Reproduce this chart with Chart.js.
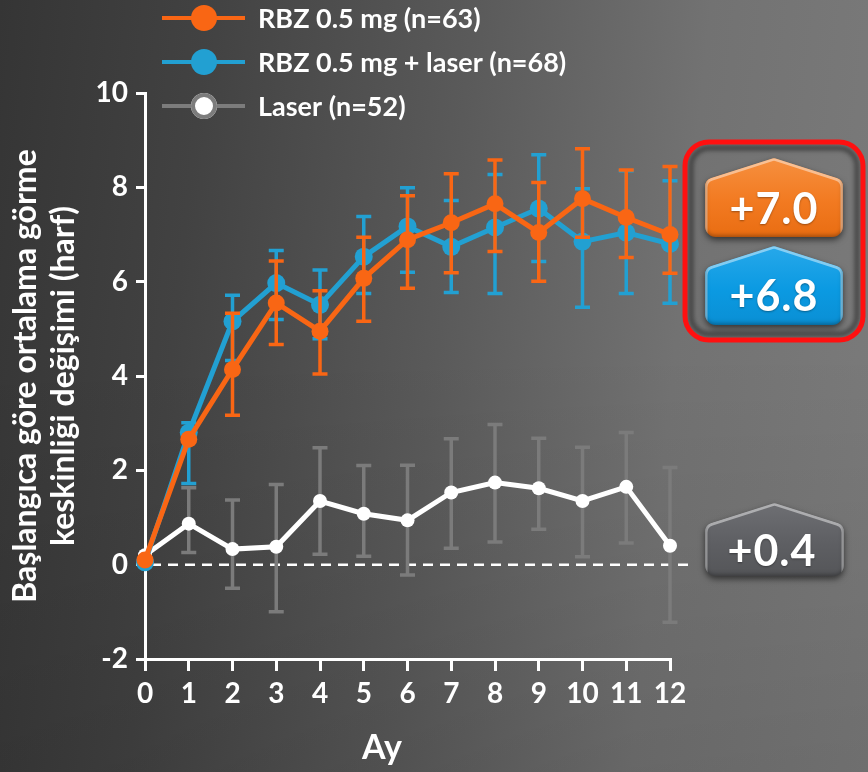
<!DOCTYPE html>
<html>
<head>
<meta charset="utf-8">
<script src="https://cdn.jsdelivr.net/npm/chart.js@4.4.1/dist/chart.umd.min.js"></script>
<style>
  html, body { margin: 0; padding: 0; width: 868px; height: 772px; overflow: hidden; }
  body {
    background:
      linear-gradient(to bottom, rgba(0,0,0,0) 45%, rgba(0,0,0,0.10) 100%),
      linear-gradient(96deg, #353535 0%, #424242 22%, #5a5a5a 50%, #727272 75%, #7b7b7b 100%);
  }
  #wrap { position: relative; width: 868px; height: 772px; }
</style>
</head>
<body>
<div id="wrap"><canvas id="c" width="868" height="772"></canvas></div>
<script>
// Months since baseline
const months = ['0', '1', '2', '3', '4', '5', '6', '7', '8', '9', '10', '11', '12'];

// Mean change in visual acuity (letters) per arm
const rbz      = [0.1, 2.66, 4.14, 5.55, 4.95, 6.07, 6.89, 7.25, 7.65, 7.04, 7.76, 7.36, 7.0];
const rbzLow   = [null, null, 3.17, 4.67, 4.04, 5.16, 5.86, 6.19, 6.64, 6.01, 6.94, 6.51, 6.18];
const rbzHigh  = [null, null, 5.33, 6.44, 5.81, 6.94, 7.82, 8.29, 8.58, 8.10, 8.82, 8.37, 8.44];

const rbzLaser     = [0.05, 2.8, 5.16, 5.97, 5.51, 6.53, 7.17, 6.74, 7.15, 7.55, 6.85, 7.04, 6.8];
const rbzLaserLow  = [null, 1.72, 4.33, 5.20, 4.79, 5.75, 6.20, 5.77, 5.75, 6.43, 5.46, 5.75, 5.54];
const rbzLaserHigh = [null, 3.01, 5.71, 6.66, 6.25, 7.38, 7.99, 7.72, 8.27, 8.69, 7.97, 8.35, 8.14];

const laser     = [0.2, 0.87, 0.33, 0.38, 1.35, 1.08, 0.94, 1.53, 1.74, 1.62, 1.35, 1.65, 0.4];
const laserLow  = [null, 0.26, -0.50, -1.00, 0.22, 0.18, -0.22, 0.35, 0.48, 0.75, 0.17, 0.46, -1.22];
const laserHigh = [null, 1.63, 1.37, 1.70, 2.48, 2.10, 2.11, 2.67, 2.97, 2.68, 2.49, 2.80, 2.06];

const seriesNames = ['RBZ 0.5 mg (n=63)', 'RBZ 0.5 mg + laser (n=68)', 'Laser (n=52)'];
const yTitle = ['Başlangıca göre ortalama görme', 'keskinliği değişimi (harf)'];
const xTitle = 'Ay';

const ORANGE = '#f96614';
const BLUE = '#22a0d2';
const WHITE = '#ffffff';
const FONT = 'Lato, "DejaVu Sans", sans-serif';

// vertical error bars, drawn just beneath each dataset's own line
const errorBars = {
  id: 'errorBars',
  beforeDatasetDraw(chart, args) {
    const ds = chart.data.datasets[args.index];
    if (!ds.errLow) return;
    const ys = chart.scales.y;
    const ctx = chart.ctx;
    ctx.save();
    ctx.strokeStyle = ds.errColor;
    ctx.lineWidth = 3.5;
    args.meta.data.forEach((pt, i) => {
      const lo = ds.errLow[i], hi = ds.errHigh[i];
      if (lo == null || hi == null) return;
      const x = pt.x, y1 = ys.getPixelForValue(lo), y2 = ys.getPixelForValue(hi);
      ctx.beginPath();
      ctx.moveTo(x, y1); ctx.lineTo(x, y2);
      ctx.moveTo(x - 7.5, y1); ctx.lineTo(x + 7.5, y1);
      ctx.moveTo(x - 7.5, y2); ctx.lineTo(x + 7.5, y2);
      ctx.stroke();
    });
    ctx.restore();
  }
};

// dashed baseline at zero
const zeroLine = {
  id: 'zeroLine',
  beforeDatasetsDraw(chart) {
    const { ctx, scales: { x, y } } = chart;
    const py = y.getPixelForValue(0);
    ctx.save();
    ctx.strokeStyle = '#ffffff';
    ctx.lineWidth = 2.5;
    ctx.setLineDash([10, 7]);
    ctx.beginPath();
    ctx.moveTo(x.left + 6, py);
    ctx.lineTo(x.right + 18, py);
    ctx.stroke();
    ctx.restore();
  }
};

function housePath(ctx, l, r, top, shoulder, bottom) {
  const cx = (l + r) / 2;
  ctx.beginPath();
  ctx.moveTo((l + cx) / 2, (shoulder + top) / 2);
  ctx.arcTo(cx, top, r, shoulder, 5);
  ctx.arcTo(r, shoulder, r, bottom, 9);
  ctx.arcTo(r, bottom, l, bottom, 11);
  ctx.arcTo(l, bottom, l, shoulder, 11);
  ctx.arcTo(l, shoulder, cx, top, 9);
  ctx.closePath();
}

function drawBadge(ctx, l, r, top, shoulder, bottom, c1, c2, c3, text, tx, ty) {
  ctx.save();
  housePath(ctx, l, r, top, shoulder, bottom);
  const g = ctx.createLinearGradient(0, top, 0, bottom);
  g.addColorStop(0, c1);
  g.addColorStop(0.55, c2);
  g.addColorStop(1, c3);
  ctx.shadowColor = 'rgba(0,0,0,0.55)';
  ctx.shadowBlur = 6;
  ctx.shadowOffsetY = 3;
  ctx.fillStyle = g;
  ctx.fill();
  ctx.restore();

  // bevel: light rim on top, dark rim at the bottom
  ctx.save();
  housePath(ctx, l, r, top, shoulder, bottom);
  ctx.clip();
  ctx.lineWidth = 3;
  ctx.strokeStyle = 'rgba(255,255,255,0.45)';
  housePath(ctx, l + 1, r - 1, top + 1, shoulder + 1, bottom + 6);
  ctx.stroke();
  ctx.strokeStyle = 'rgba(0,0,0,0.35)';
  ctx.lineWidth = 5;
  ctx.filter = 'blur(2px)';
  housePath(ctx, l - 2, r + 2, top - 8, shoulder - 8, bottom + 1);
  ctx.stroke();
  ctx.restore();

  ctx.save();
  ctx.fillStyle = '#ffffff';
  ctx.font = `bold 43px ${FONT}`;
  ctx.letterSpacing = '1px';
  ctx.textAlign = 'center';
  ctx.textBaseline = 'middle';
  ctx.shadowColor = 'rgba(0,0,0,0.35)';
  ctx.shadowBlur = 2;
  ctx.shadowOffsetY = 1;
  ctx.fillText(text, tx, ty);
  ctx.restore();
}

const fmt = v => (v >= 0 ? '+' : '') + v.toFixed(1);

// end-of-study callouts, legend and x-axis title
const overlay = {
  id: 'overlay',
  afterDraw(chart) {
    const ctx = chart.ctx;
    const ds = chart.data.datasets;

    // legend
    ds.forEach((d, i) => {
      const y = 18 + 44 * i;
      ctx.save();
      ctx.strokeStyle = d.legendLine;
      ctx.lineWidth = 4;
      ctx.beginPath(); ctx.moveTo(162, y); ctx.lineTo(245, y); ctx.stroke();
      ctx.beginPath(); ctx.arc(204, y, 13, 0, Math.PI * 2);
      ctx.fillStyle = d.legendDot;
      ctx.fill();
      if (d.legendRing) {
        ctx.lineWidth = 4; ctx.strokeStyle = d.legendRing;
        ctx.beginPath(); ctx.arc(204, y, 11, 0, Math.PI * 2); ctx.stroke();
      }
      ctx.fillStyle = '#ffffff';
      ctx.font = `bold 27px ${FONT}`;
      ctx.textBaseline = 'middle';
      ctx.fillText(d.label, 258, y + 1);
      ctx.restore();
    });

    // x-axis title
    ctx.save();
    ctx.fillStyle = '#ffffff';
    ctx.font = `bold 34px ${FONT}`;
    ctx.textAlign = 'center';
    ctx.textBaseline = 'middle';
    ctx.fillText(xTitle, 382, 748);
    ctx.restore();

    // red frame around the two ranibizumab arms
    ctx.save();
    ctx.filter = 'blur(2px)';
    ctx.strokeStyle = 'rgba(35,35,35,0.6)';
    ctx.lineWidth = 5;
    ctx.beginPath(); ctx.roundRect(691, 148, 166, 186, 18); ctx.stroke();
    ctx.restore();
    ctx.save();
    ctx.strokeStyle = '#ff1010';
    ctx.lineWidth = 5;
    ctx.beginPath(); ctx.roundRect(685, 142, 178, 198, 24); ctx.stroke();
    ctx.restore();

    const last = a => a[a.length - 1];
    drawBadge(ctx, 705, 843, 158, 180, 237, '#f6903f', '#f27a21', '#e96d12', fmt(last(ds[0].data)), 774, 210);
    drawBadge(ctx, 705, 843, 246, 268, 325, '#27a8ea', '#0b9ae2', '#0a8fd4', fmt(last(ds[1].data)), 774, 297);
    drawBadge(ctx, 705, 844, 503, 525, 576, '#6e6f73', '#5e5f63', '#555659', fmt(last(ds[2].data)), 772, 552);
  }
};

function build() {
  const ctx = document.getElementById('c').getContext('2d');
  new Chart(ctx, {
    type: 'line',
    data: {
      labels: months,
      datasets: [
        {
          label: seriesNames[0], data: rbz, errLow: rbzLow, errHigh: rbzHigh, errColor: ORANGE,
          borderColor: ORANGE, backgroundColor: ORANGE, borderWidth: 5,
          pointRadius: 8.5, pointBorderWidth: 0, pointBackgroundColor: ORANGE,
          legendLine: ORANGE, legendDot: ORANGE, clip: false
        },
        {
          label: seriesNames[1], data: rbzLaser, errLow: rbzLaserLow, errHigh: rbzLaserHigh, errColor: BLUE,
          borderColor: BLUE, backgroundColor: BLUE, borderWidth: 5,
          pointRadius: 9, pointBorderWidth: 0, pointBackgroundColor: BLUE,
          legendLine: BLUE, legendDot: BLUE, clip: false
        },
        {
          label: seriesNames[2], data: laser, errLow: laserLow, errHigh: laserHigh, errColor: '#7b7b7b',
          borderColor: WHITE, backgroundColor: WHITE, borderWidth: 5,
          pointRadius: 7, pointBorderWidth: 0, pointBackgroundColor: WHITE,
          legendLine: '#7c7c7c', legendDot: '#ffffff', legendRing: '#7c7c7c', clip: false
        }
      ]
    },
    options: {
      responsive: false,
      animation: false,
      events: [],
      layout: { padding: { top: 93, right: 198, left: 0, bottom: 0 } },
      elements: { line: { tension: 0 } },
      plugins: { legend: { display: false }, tooltip: { enabled: false } },
      scales: {
        x: {
          type: 'category',
          offset: false,
          ticks: {
            color: '#ffffff', autoSkip: false, maxRotation: 0, padding: 6,
            font: { family: FONT, weight: 'bold', size: 28 }
          },
          grid: {
            display: true, drawOnChartArea: false, drawTicks: true, offset: false,
            tickLength: 12, color: '#ffffff', lineWidth: 3
          },
          border: { display: true, color: '#ffffff', width: 3 },
          afterFit(scale) { scale.height = 113; }
        },
        y: {
          min: -2, max: 10,
          ticks: {
            stepSize: 2, color: '#ffffff', padding: 8,
            font: { family: FONT, weight: 'bold', size: 28 }
          },
          grid: {
            display: true, drawOnChartArea: false, drawTicks: true,
            tickLength: 9, color: '#ffffff', lineWidth: 3
          },
          border: { display: true, color: '#ffffff', width: 3 },
          title: {
            display: true, text: yTitle, color: '#ffffff',
            font: { family: FONT, weight: 'bold', size: 32, lineHeight: 1.19 },
            padding: { top: 7, bottom: 0 }
          },
          afterFit(scale) { scale.width = 145; }
        }
      }
    },
    plugins: [zeroLine, errorBars, overlay]
  });
}

if (document.fonts && document.fonts.load) {
  Promise.all([document.fonts.load(`bold 27px Lato`)]).then(build, build);
} else {
  build();
}
</script>
</body>
</html>
